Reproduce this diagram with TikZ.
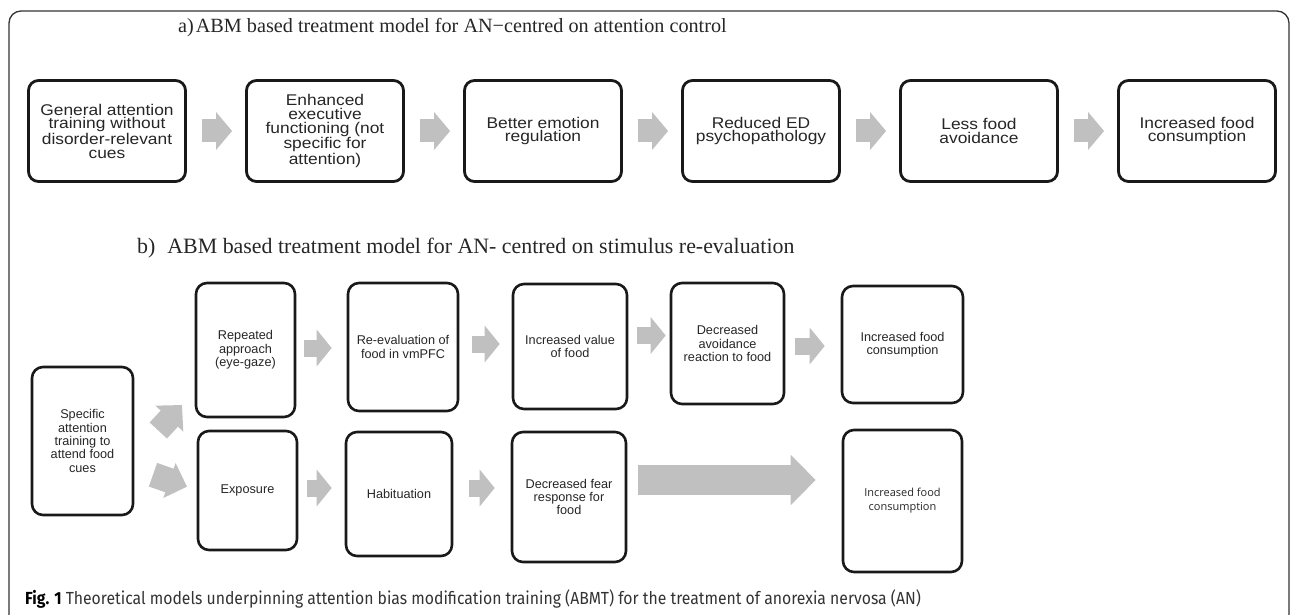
\documentclass[tikz,border=0pt]{standalone}
\usepackage{fontspec}
\setmainfont{Liberation Serif}
\newfontfamily\boxfont{Liberation Sans}
\newfontfamily\wideboxfont[FakeStretch=1.12]{Liberation Sans}
\newfontfamily\oddfont{Open Sans}
\newfontfamily\capfont[FakeStretch=0.9]{Fira Sans}
\usetikzlibrary{arrows.meta}
\definecolor{arrowgray}{RGB}{192,192,192}
\definecolor{captext}{RGB}{51,51,51}

\begin{document}
\begin{tikzpicture}[
            x=1pt, y=-1pt,
            box/.style={draw=black!90, line width=2.8pt, rounded corners=10pt, align=center, inner sep=0pt, text=black!85},
            boxa/.style={box, minimum width=157pt, minimum height=101pt, font=\wideboxfont\fontsize{15.5}{13.8}\selectfont},
            boxb/.style={box, line width=2.6pt, rounded corners=11pt, font=\boxfont\fontsize{12.7}{13.3}\selectfont},
            fata/.style={draw=arrowgray, line width=23pt, -{Triangle[length=16pt,width=37pt]}},
            fatb/.style={draw=arrowgray, line width=17pt, -{Triangle[length=15pt,width=36pt]}},
            title/.style={anchor=base west, inner sep=0pt, text=black!85}
        ]

        \useasboundingbox (0,0) rectangle (1290,615);
        \clip (0,0) rectangle (1290,615);
        \draw[black!80, line width=1.3pt, rounded corners=12pt] (9,640) -- (9,11) -- (1289,11) -- (1289,640);

        \node[title, font=\fontsize{20.2}{21}\selectfont] (ta) at (178,33) {a)\kern2pt ABM based treatment model for AN−centred on attention control};

        \node[boxa] (a1) at (107,131) {General attention\\training without\\disorder-relevant\\cues};
        \node[boxa] (a2) at (325,131) {Enhanced\\executive\\functioning (not\\specific for\\attention)};
        \node[boxa] (a3) at (543,131) {Better emotion\\regulation};
        \node[boxa] (a4) at (761,131) {Reduced ED\\psychopathology};
        \node[boxa] (a5) at (979,131) {Less food\\avoidance};
        \node[boxa] (a6) at (1197,131) {Increased food\\consumption};

        \foreach \i/\j in {a1/a2,a2/a3,a3/a4,a4/a5,a5/a6}
            \draw[fata, shorten <=15pt, shorten >=13pt] (\i) -- (\j);

        \node[title, font=\fontsize{21.9}{23}\selectfont] (tb) at (137,253) {b)\hspace{12pt}ABM based treatment model for AN- centred on stimulus re-evaluation};

        \node[boxb, minimum width=101pt, minimum height=148pt] (s) at (82.5,441) {Specific\\attention\\training to\\attend food\\cues};
        \node[boxb, minimum width=99pt, minimum height=134pt] (r) at (245.5,350) {Repeated\\approach\\(eye-gaze)};
        \node[boxb, minimum width=99pt, minimum height=119pt] (e) at (247.5,490.5) {Exposure};
        \node[boxb, minimum width=110pt, minimum height=128pt] (v) at (403,347) {Re-evaluation of\\food in vmPFC};
        \node[boxb, minimum width=106pt, minimum height=124pt] (h) at (399,494) {Habituation};
        \node[boxb, minimum width=114pt, minimum height=125pt] (iv) at (570,346.5) {Increased value\\of food};
        \node[boxb, minimum width=113pt, minimum height=121pt] (da) at (727.5,343.5) {Decreased\\avoidance\\reaction to food};
        \node[boxb, minimum width=121pt, minimum height=117pt] (f1) at (902.5,344.5) {Increased food\\consumption};
        \node[boxb, minimum width=114pt, minimum height=130pt] (df) at (569,497) {Decreased fear\\response for\\food};
        \node[boxb, minimum width=119pt, minimum height=142pt, font=\oddfont\fontsize{11}{14}\selectfont] (f2) at (902.5,501) {Increased food\\consumption};

        \draw[fatb, line width=23.6pt, -{Triangle[length=18.6pt,width=37pt]}] ([shift={(24,-10.5)}]s.east) -- ([shift={(-12.7,55)}]r.west);
        \draw[fatb, line width=25pt, -{Triangle[length=18.6pt,width=36pt]}] ([shift={(18.7,33.7)}]s.east) -- ([shift={(-9.7,-3.8)}]e.west);

        \draw[fatb, shorten <=8pt, shorten >=15pt] (r.east |- 0,348) -- (v.west |- 0,348);
        \draw[fatb, shorten <=13pt, shorten >=12pt] (v.east |- 0,344) -- (iv.west |- 0,344);
        \draw[fatb, shorten <=9pt, shorten >=4pt] (iv.east |- 0,335.5) -- (da.west |- 0,335.5);
        \draw[fatb, shorten <=10pt, shorten >=16pt] (da.east |- 0,346) -- (f1.west |- 0,346);
        \draw[fatb, shorten <=9pt, shorten >=13pt] (e.east |- 0,488) -- (h.west |- 0,488);
        \draw[fatb, shorten <=16pt, shorten >=16pt] (h.east |- 0,488) -- (df.west |- 0,488);
        \draw[fatb, line width=30pt, -{Triangle[length=25pt,width=49pt]}, shorten <=11pt, shorten >=26pt] (df.east |- 0,480) -- (f2.west |- 0,480);

        \node[title, font=\capfont\fontsize{17.5}{18}\selectfont, text=captext] (cap) at (25,604) {{\color{black}\textbf{Fig. 1}} Theoretical models underpinning attention bias modification training (ABMT) for the treatment of anorexia nervosa (AN)};

    \end{tikzpicture}
\end{document}
